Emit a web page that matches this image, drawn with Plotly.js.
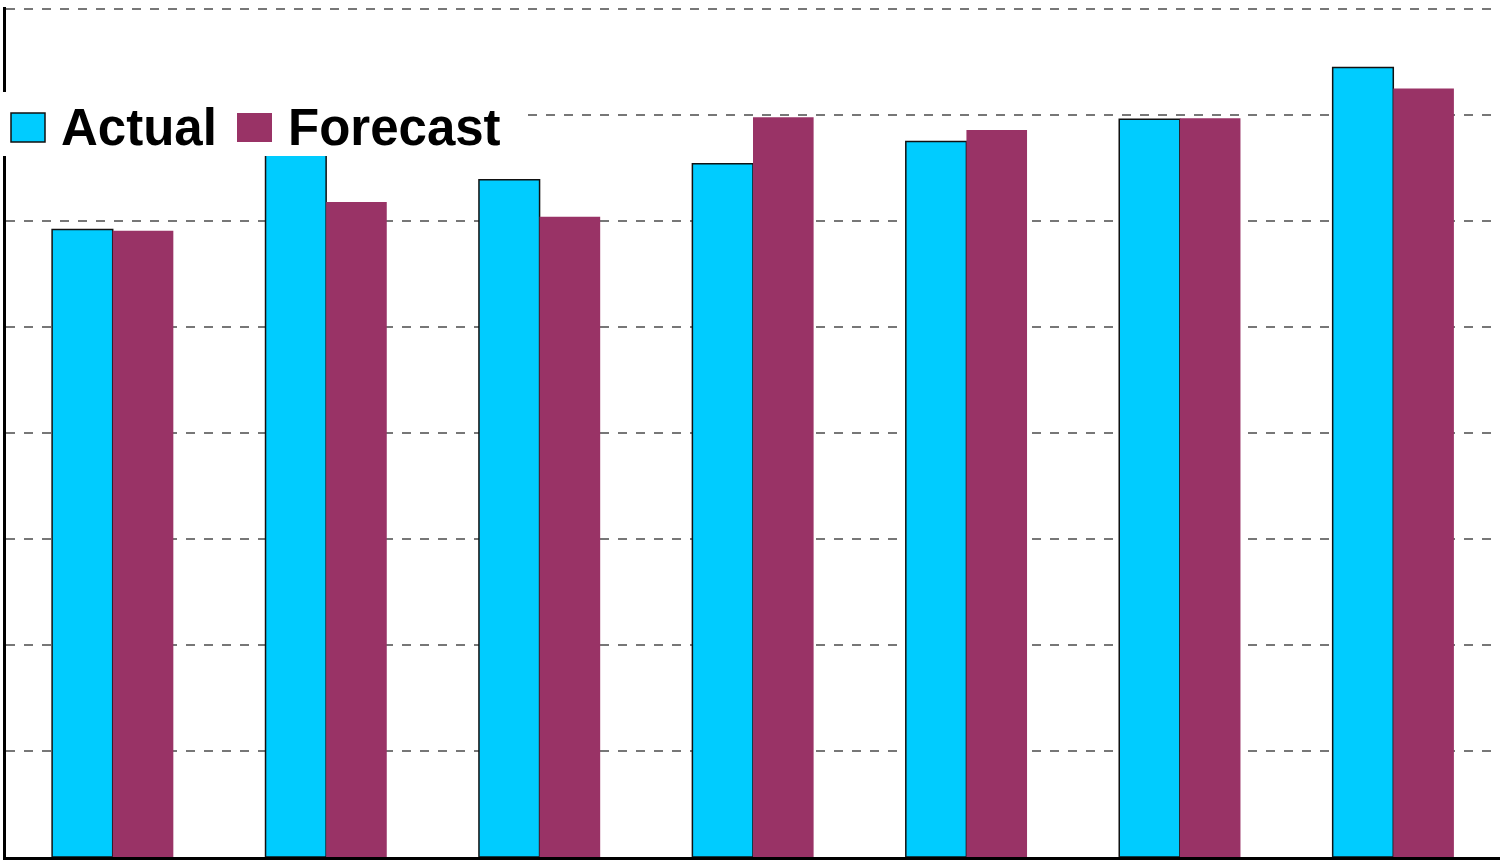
<!DOCTYPE html>
<html>
<head>
<meta charset="utf-8">
<script src="https://cdn.plot.ly/plotly-3.0.1.min.js"></script>
<style>
html,body{margin:0;padding:0;background:#fff;}
#chart{width:1504px;height:862px;}
</style>
</head>
<body>
<div id="chart"></div>
<script>
var categories = ["P1", "P2", "P3", "P4", "P5", "P6", "P7"];
var actualValues = [5.92, 7.0, 6.39, 6.54, 6.75, 6.96, 7.45];
var forecastValues = [5.91, 6.18, 6.04, 6.98, 6.86, 6.97, 7.25];
var seriesNames = ["Actual", "Forecast"];
var seriesColors = ["#00CCFF", "#993366"];

var W = 1504, H = 862;
var M = {l: 6, r: 4, t: 7, b: 5};
var PW = W - M.l - M.r, PH = H - M.t - M.b;
function px(x) { return (x - M.l) / PW; }
function py(y) { return (H - M.b - y) / PH; }

var traces = [
  {type: "bar", name: seriesNames[0], x: categories, y: actualValues,
   marker: {color: seriesColors[0], line: {color: "#111", width: 1.5}}, hoverinfo: "skip"},
  {type: "bar", name: seriesNames[1], x: categories, y: forecastValues,
   marker: {color: seriesColors[1], line: {width: 0}}, hoverinfo: "skip"}
];

var shapes = [
  {type: "rect", xref: "paper", yref: "paper", x0: px(-2), x1: px(522), y0: py(156), y1: py(92),
   fillcolor: "#fff", line: {width: 0}, layer: "above"},
  {type: "rect", xref: "paper", yref: "paper", x0: px(11), x1: px(45), y0: py(142), y1: py(113),
   fillcolor: seriesColors[0], line: {color: "#111", width: 1.5}, layer: "above"},
  {type: "rect", xref: "paper", yref: "paper", x0: px(237), x1: px(272), y0: py(142), y1: py(113),
   fillcolor: seriesColors[1], line: {width: 0}, layer: "above"}
];

var annotations = [
  {xref: "paper", yref: "paper", x: px(59), y: py(127), xanchor: "left", yanchor: "middle",
   text: "<b>" + seriesNames[0] + "</b>", showarrow: false,
   font: {family: "Liberation Sans, Arial, sans-serif", size: 51, color: "#000"}},
  {xref: "paper", yref: "paper", x: px(286), y: py(127), xanchor: "left", yanchor: "middle",
   text: "<b>" + seriesNames[1] + "</b>", showarrow: false,
   font: {family: "Liberation Sans, Arial, sans-serif", size: 51, color: "#000"}}
];

var layout = {
  width: W, height: H,
  margin: M,
  paper_bgcolor: "#fff", plot_bgcolor: "#fff",
  barmode: "group", bargap: 0.432, bargroupgap: 0,
  showlegend: false,
  xaxis: {type: "category", showticklabels: false, ticks: "", showgrid: false,
          showline: true, linecolor: "#000", linewidth: 3, zeroline: false, fixedrange: true},
  yaxis: {range: [0, 8.02], dtick: 1, tick0: 0, showticklabels: false, ticks: "", showgrid: true,
          gridcolor: "#777", gridwidth: 1.3, griddash: "dash",
          showline: true, linecolor: "#000", linewidth: 3, zeroline: false, fixedrange: true},
  shapes: shapes,
  annotations: annotations
};

Plotly.newPlot("chart", traces, layout, {displayModeBar: false, staticPlot: true});
</script>
</body>
</html>
